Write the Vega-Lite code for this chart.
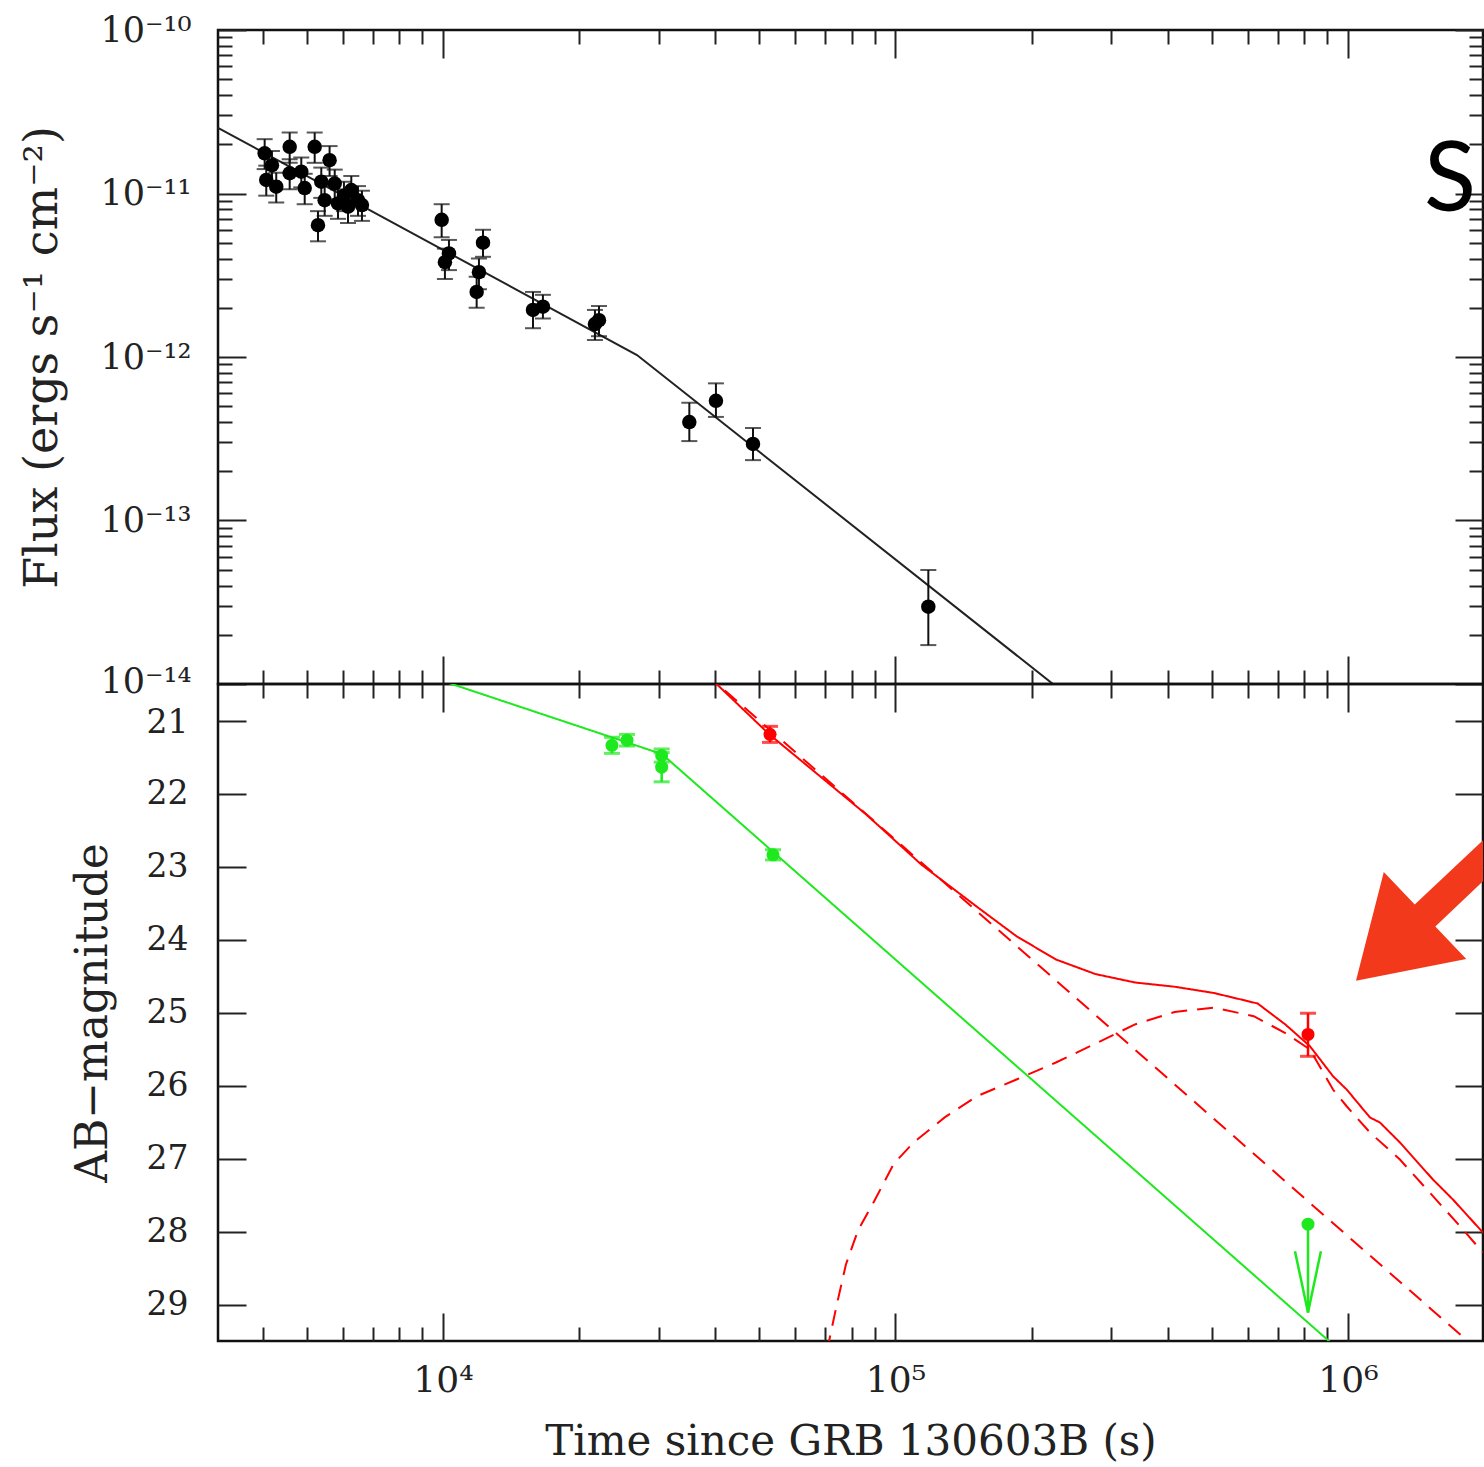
{
  "$schema": "https://vega.github.io/schema/vega-lite/v6.json",
  "background": "white",
  "padding": {"left": 18, "top": 11, "right": 0, "bottom": 2},
  "spacing": 0,
  "bounds": "flush",
  "config": {
    "view": {"stroke": "#111", "strokeWidth": 2.5},
    "axis": {
      "domain": false, "grid": false, "tickColor": "#222", "tickWidth": 2,
      "labelColor": "#222", "titleColor": "#222", "labelFont": "DejaVu Serif", "titleFont": "DejaVu Serif",
      "titleFontWeight": "normal", "labelOverlap": false, "labelFlush": false, "labelBound": false
    }
  },
  "datasets": {
    "xray": [
      {"t":4036,"f":1.76e-11,"flo":1.41e-11,"fhi":2.15e-11},
      {"t":4584,"f":1.93e-11,"flo":1.54e-11,"fhi":2.36e-11},
      {"t":5206,"f":1.93e-11,"flo":1.54e-11,"fhi":2.36e-11},
      {"t":5616,"f":1.60e-11,"flo":1.28e-11,"fhi":1.95e-11},
      {"t":4069,"f":1.21e-11,"flo":0.97e-11,"fhi":1.48e-11},
      {"t":4281,"f":1.10e-11,"flo":0.88e-11,"fhi":1.34e-11},
      {"t":4584,"f":1.33e-11,"flo":1.06e-11,"fhi":1.62e-11},
      {"t":4863,"f":1.36e-11,"flo":1.09e-11,"fhi":1.66e-11},
      {"t":4948,"f":1.08e-11,"flo":0.86e-11,"fhi":1.32e-11},
      {"t":5384,"f":1.18e-11,"flo":0.94e-11,"fhi":1.44e-11},
      {"t":5477,"f":9.1e-12,"flo":7.3e-12,"fhi":1.11e-11},
      {"t":5765,"f":1.15e-11,"flo":0.92e-11,"fhi":1.40e-11},
      {"t":5294,"f":6.4e-12,"flo":5.1e-12,"fhi":7.8e-12},
      {"t":5861,"f":8.7e-12,"flo":7.0e-12,"fhi":1.06e-11},
      {"t":6272,"f":1.05e-11,"flo":0.84e-11,"fhi":1.28e-11},
      {"t":6490,"f":9.1e-12,"flo":7.3e-12,"fhi":1.11e-11},
      {"t":6168,"f":8.3e-12,"flo":6.6e-12,"fhi":1.01e-11},
      {"t":4189,"f":1.49e-11,"flo":1.19e-11,"fhi":1.82e-11},
      {"t":6042,"f":9.7e-12,"flo":7.8e-12,"fhi":1.18e-11},
      {"t":6622,"f":8.5e-12,"flo":6.8e-12,"fhi":1.04e-11},
      {"t":9934,"f":6.9e-12,"flo":5.4e-12,"fhi":8.6e-12},
      {"t":10100,"f":3.8e-12,"flo":3.0e-12,"fhi":4.6e-12},
      {"t":10310,"f":4.3e-12,"flo":3.4e-12,"fhi":5.2e-12},
      {"t":12260,"f":5.0e-12,"flo":4.1e-12,"fhi":6.0e-12},
      {"t":12010,"f":3.3e-12,"flo":2.6e-12,"fhi":4.0e-12},
      {"t":11870,"f":2.5e-12,"flo":2.0e-12,"fhi":3.1e-12},
      {"t":15810,"f":1.94e-12,"flo":1.50e-12,"fhi":2.5e-12},
      {"t":16630,"f":2.03e-12,"flo":1.72e-12,"fhi":2.4e-12},
      {"t":21670,"f":1.59e-12,"flo":1.27e-12,"fhi":1.94e-12},
      {"t":22120,"f":1.68e-12,"flo":1.34e-12,"fhi":2.05e-12},
      {"t":35030,"f":4.0e-13,"flo":3.06e-13,"fhi":5.25e-13},
      {"t":40110,"f":5.4e-13,"flo":4.3e-13,"fhi":6.9e-13},
      {"t":48430,"f":2.94e-13,"flo":2.34e-13,"fhi":3.68e-13},
      {"t":118200,"f":2.97e-14,"flo":1.73e-14,"fhi":4.98e-14}
    ],
    "xfit": [
      {"t":3183,"f":2.52e-11},
      {"t":26840,"f":1.028e-12},
      {"t":240000,"f":8.5e-15}
    ],
    "stext": [{"t":1472000,"f":7.82e-12,"label":"S"}],
    "opt": [
      {"t":23630,"m":21.34,"mlo":21.23,"mhi":21.45,"c":"g"},
      {"t":25510,"m":21.27,"mlo":21.19,"mhi":21.35,"c":"g"},
      {"t":30430,"m":21.48,"mlo":21.39,"mhi":21.57,"c":"g"},
      {"t":30430,"m":21.64,"mlo":21.44,"mhi":21.84,"c":"g"},
      {"t":53620,"m":22.84,"mlo":22.77,"mhi":22.91,"c":"g"},
      {"t":52810,"m":21.19,"mlo":21.08,"mhi":21.30,"c":"r"},
      {"t":816000,"m":25.30,"mlo":25.01,"mhi":25.60,"c":"r"}
    ],
    "ulim": [{"t":816000,"m":27.90,"m2":29.11,"c":"g"}],
    "uhead": [
      {"t":763700,"m":28.27},
      {"t":816000,"m":29.11},
      {"t":871500,"m":28.27}
    ],
    "arrow": [{"t":1443000,"m":23.589}],
    "models": [
      {"t":10000,"m":20.46,"c":"g"},
      {"t":30480,"m":21.46,"c":"g"},
      {"t":1000000,"m":29.73,"c":"g"},
      {"t":38000,"m":20.353,"c":"pl"},
      {"t":2000000,"m":29.70,"c":"pl"},
      {"t":38000,"m":20.353,"c":"tot"},
      {"t":52590,"m":21.188,"c":"tot"},
      {"t":86050,"m":22.284,"c":"tot"},
      {"t":114160,"m":22.975,"c":"tot"},
      {"t":151390,"m":23.552,"c":"tot"},
      {"t":185110,"m":23.955,"c":"tot"},
      {"t":226260,"m":24.274,"c":"tot"},
      {"t":276810,"m":24.474,"c":"tot"},
      {"t":338270,"m":24.589,"c":"tot"},
      {"t":414000,"m":24.647,"c":"tot"},
      {"t":505710,"m":24.733,"c":"tot"},
      {"t":631540,"m":24.877,"c":"tot"},
      {"t":727110,"m":25.164,"c":"tot"},
      {"t":824140,"m":25.462,"c":"tot"},
      {"t":926700,"m":25.873,"c":"tot"},
      {"t":993340,"m":26.055,"c":"tot"},
      {"t":1118400,"m":26.438,"c":"tot"},
      {"t":1176800,"m":26.507,"c":"tot"},
      {"t":1302600,"m":26.781,"c":"tot"},
      {"t":1541000,"m":27.288,"c":"tot"},
      {"t":1706100,"m":27.562,"c":"tot"},
      {"t":1987300,"m":28.014,"c":"tot"},
      {"t":70550,"m":29.64,"c":"kn"},
      {"t":74040,"m":29.027,"c":"kn"},
      {"t":77710,"m":28.452,"c":"kn"},
      {"t":82620,"m":27.986,"c":"kn"},
      {"t":89660,"m":27.589,"c":"kn"},
      {"t":99240,"m":27.068,"c":"kn"},
      {"t":109650,"m":26.781,"c":"kn"},
      {"t":128660,"m":26.434,"c":"kn"},
      {"t":151390,"m":26.147,"c":"kn"},
      {"t":185110,"m":25.918,"c":"kn"},
      {"t":226260,"m":25.685,"c":"kn"},
      {"t":276810,"m":25.425,"c":"kn"},
      {"t":338270,"m":25.164,"c":"kn"},
      {"t":414000,"m":24.993,"c":"kn"},
      {"t":505710,"m":24.932,"c":"kn"},
      {"t":619200,"m":25.051,"c":"kn"},
      {"t":727110,"m":25.281,"c":"kn"},
      {"t":824140,"m":25.507,"c":"kn"},
      {"t":926700,"m":26.055,"c":"kn"},
      {"t":993340,"m":26.284,"c":"kn"},
      {"t":1118400,"m":26.644,"c":"kn"},
      {"t":1302600,"m":27.014,"c":"kn"},
      {"t":1541000,"m":27.516,"c":"kn"},
      {"t":1768000,"m":27.927,"c":"kn"},
      {"t":1987300,"m":28.288,"c":"kn"}
    ]
  },
  "vconcat": [
    {
      "width": 1265,
      "height": 654,
      "resolve": {"axis": {"x": "independent", "y": "independent"}},
      "layer": [
        {
          "data": {"name": "xfit"},
          "mark": {"type": "line", "color": "#222", "strokeWidth": 2, "clip": true},
          "encoding": {
            "x": {"field": "t", "type": "quantitative", "scale": {"type": "log", "domain": [3183, 1988000], "nice": false},
              "axis": {"orient": "top", "labels": false, "title": null,
                "values": [4000,5000,6000,7000,8000,9000,10000,20000,30000,40000,50000,60000,70000,80000,90000,100000,200000,300000,400000,500000,600000,700000,800000,900000,1000000],
                "tickSize": {"condition": {"test": "datum.value == 10000 || datum.value == 100000 || datum.value == 1000000", "value": -28}, "value": -14}}},
            "y": {"field": "f", "type": "quantitative", "scale": {"type": "log", "domain": [1e-14, 1e-10], "nice": false},
              "axis": {"orient": "left",
                "values": [1e-14,2e-14,3e-14,4e-14,5e-14,6e-14,7e-14,8e-14,9e-14,1e-13,2e-13,3e-13,4e-13,5e-13,6e-13,7e-13,8e-13,9e-13,1e-12,2e-12,3e-12,4e-12,5e-12,6e-12,7e-12,8e-12,9e-12,1e-11,2e-11,3e-11,4e-11,5e-11,6e-11,7e-11,8e-11,9e-11,1e-10],
                "labelExpr": "datum.value == 1e-10 ? '10⁻¹⁰' : datum.value == 1e-11 ? '10⁻¹¹' : datum.value == 1e-12 ? '10⁻¹²' : datum.value == 1e-13 ? '10⁻¹³' : datum.value == 1e-14 ? '10⁻¹⁴' : ''",
                "labelFontSize": 35, "labelPadding": 55,
                "labelOffset": {"condition": {"test": "datum.value == 1e-14", "value": -3}, "value": 0},
                "tickSize": {"condition": {"test": "datum.value == 1e-10 || datum.value == 1e-11 || datum.value == 1e-12 || datum.value == 1e-13 || datum.value == 1e-14", "value": -28}, "value": -14},
                "title": "Flux (ergs s⁻¹ cm⁻²)", "titleFontSize": 46, "titlePadding": 33}}
          }
        },
        {
          "data": {"name": "xray"},
          "mark": {"type": "errorbar", "color": "#111", "thickness": 2, "ticks": {"size": 16, "thickness": 2}},
          "encoding": {
            "x": {"field": "t", "type": "quantitative", "scale": {"type": "log", "domain": [3183, 1988000], "nice": false}, "axis": null},
            "y": {"field": "flo", "type": "quantitative", "scale": {"type": "log", "domain": [1e-14, 1e-10], "nice": false}, "axis": null},
            "y2": {"field": "fhi"}
          }
        },
        {
          "data": {"name": "xray"},
          "mark": {"type": "point", "filled": true, "shape": "circle", "color": "#000", "size": 210, "opacity": 1},
          "encoding": {
            "x": {"field": "t", "type": "quantitative", "scale": {"type": "log", "domain": [3183, 1988000], "nice": false},
              "axis": {"orient": "bottom", "labels": false, "title": null,
                "values": [4000,5000,6000,7000,8000,9000,10000,20000,30000,40000,50000,60000,70000,80000,90000,100000,200000,300000,400000,500000,600000,700000,800000,900000,1000000],
                "tickSize": {"condition": {"test": "datum.value == 10000 || datum.value == 100000 || datum.value == 1000000", "value": -28}, "value": -14}}},
            "y": {"field": "f", "type": "quantitative", "scale": {"type": "log", "domain": [1e-14, 1e-10], "nice": false},
              "axis": {"orient": "right", "labels": false, "title": null,
                "values": [1e-14,2e-14,3e-14,4e-14,5e-14,6e-14,7e-14,8e-14,9e-14,1e-13,2e-13,3e-13,4e-13,5e-13,6e-13,7e-13,8e-13,9e-13,1e-12,2e-12,3e-12,4e-12,5e-12,6e-12,7e-12,8e-12,9e-12,1e-11,2e-11,3e-11,4e-11,5e-11,6e-11,7e-11,8e-11,9e-11,1e-10],
                "tickSize": {"condition": {"test": "datum.value == 1e-10 || datum.value == 1e-11 || datum.value == 1e-12 || datum.value == 1e-13 || datum.value == 1e-14", "value": -28}, "value": -14}}}
          }
        },
        {
          "data": {"name": "stext"},
          "mark": {"type": "text", "font": "Lato", "fontSize": 96, "align": "left", "baseline": "alphabetic", "color": "#000"},
          "encoding": {
            "x": {"field": "t", "type": "quantitative", "scale": {"type": "log", "domain": [3183, 1988000], "nice": false}, "axis": null},
            "y": {"field": "f", "type": "quantitative", "scale": {"type": "log", "domain": [1e-14, 1e-10], "nice": false}, "axis": null},
            "text": {"field": "label"}
          }
        }
      ]
    },
    {
      "width": 1265,
      "height": 657,
      "resolve": {"axis": {"x": "independent", "y": "independent"}},
      "layer": [
        {
          "data": {"name": "models"},
          "mark": {"type": "line", "strokeWidth": 2, "clip": true},
          "encoding": {
            "x": {"field": "t", "type": "quantitative", "scale": {"type": "log", "domain": [3183, 1988000], "nice": false},
              "axis": {"orient": "top", "labels": false, "title": null,
                "values": [4000,5000,6000,7000,8000,9000,10000,20000,30000,40000,50000,60000,70000,80000,90000,100000,200000,300000,400000,500000,600000,700000,800000,900000,1000000],
                "tickSize": {"condition": {"test": "datum.value == 10000 || datum.value == 100000 || datum.value == 1000000", "value": -28}, "value": -14}}},
            "y": {"field": "m", "type": "quantitative", "scale": {"domain": [20.5, 29.5], "reverse": true, "nice": false, "zero": false},
              "axis": {"orient": "left", "values": [21,22,23,24,25,26,27,28,29], "labelFontSize": 33, "labelPadding": 58, "tickSize": -28,
                "labelOffset": {"condition": {"test": "datum.value == 21", "value": 2}, "value": 0},
                "title": "AB−magnitude", "titleFontSize": 44, "titlePadding": 31}},
            "color": {"field": "c", "type": "nominal", "scale": {"domain": ["g","r","pl","tot","kn"], "range": ["#1ee81e","#ff0000","#ff0000","#ff0000","#ff0000"]}, "legend": null},
            "strokeDash": {"field": "c", "type": "nominal", "scale": {"domain": ["g","pl","tot","kn"], "range": [[1,0],[16,10],[1,0],[16,10]]}, "legend": null}
          }
        },
        {
          "data": {"name": "opt"},
          "mark": {"type": "errorbar", "thickness": 2.5, "ticks": {"size": 16, "thickness": 3}},
          "encoding": {
            "x": {"field": "t", "type": "quantitative", "scale": {"type": "log", "domain": [3183, 1988000], "nice": false}, "axis": null},
            "y": {"field": "mlo", "type": "quantitative", "scale": {"domain": [20.5, 29.5], "reverse": true, "nice": false, "zero": false}, "axis": null},
            "y2": {"field": "mhi"},
            "color": {"field": "c", "type": "nominal", "scale": {"domain": ["g","r","pl","tot","kn"], "range": ["#1ee81e","#ff0000","#ff0000","#ff0000","#ff0000"]}, "legend": null}
          }
        },
        {
          "data": {"name": "opt"},
          "mark": {"type": "point", "filled": true, "shape": "circle", "size": 170, "opacity": 1},
          "encoding": {
            "x": {"field": "t", "type": "quantitative", "scale": {"type": "log", "domain": [3183, 1988000], "nice": false},
              "axis": {"orient": "bottom",
                "values": [4000,5000,6000,7000,8000,9000,10000,20000,30000,40000,50000,60000,70000,80000,90000,100000,200000,300000,400000,500000,600000,700000,800000,900000,1000000],
                "labelExpr": "datum.value == 10000 ? '10⁴' : datum.value == 100000 ? '10⁵' : datum.value == 1000000 ? '10⁶' : ''",
                "labelFontSize": 36, "labelPadding": 50, "labelBaseline": "top",
                "tickSize": {"condition": {"test": "datum.value == 10000 || datum.value == 100000 || datum.value == 1000000", "value": -28}, "value": -14},
                "title": "Time since GRB 130603B (s)", "titleFontSize": 42, "titlePadding": 9}},
            "y": {"field": "m", "type": "quantitative", "scale": {"domain": [20.5, 29.5], "reverse": true, "nice": false, "zero": false},
              "axis": {"orient": "right", "values": [21,22,23,24,25,26,27,28,29], "labels": false, "title": null, "tickSize": -28}},
            "color": {"field": "c", "type": "nominal", "scale": {"domain": ["g","r","pl","tot","kn"], "range": ["#1ee81e","#ff0000","#ff0000","#ff0000","#ff0000"]}, "legend": null}
          }
        },
        {
          "data": {"name": "ulim"},
          "mark": {"type": "rule", "color": "#1ee81e", "strokeWidth": 2.5},
          "encoding": {
            "x": {"field": "t", "type": "quantitative", "scale": {"type": "log", "domain": [3183, 1988000], "nice": false}, "axis": null},
            "y": {"field": "m", "type": "quantitative", "scale": {"domain": [20.5, 29.5], "reverse": true, "nice": false, "zero": false}, "axis": null},
            "y2": {"field": "m2"}
          }
        },
        {
          "data": {"name": "ulim"},
          "mark": {"type": "point", "filled": true, "shape": "circle", "size": 170, "opacity": 1, "color": "#1ee81e"},
          "encoding": {
            "x": {"field": "t", "type": "quantitative", "scale": {"type": "log", "domain": [3183, 1988000], "nice": false}, "axis": null},
            "y": {"field": "m", "type": "quantitative", "scale": {"domain": [20.5, 29.5], "reverse": true, "nice": false, "zero": false}, "axis": null}
          }
        },
        {
          "data": {"name": "uhead"},
          "mark": {"type": "line", "color": "#1ee81e", "strokeWidth": 2.5},
          "encoding": {
            "x": {"field": "t", "type": "quantitative", "scale": {"type": "log", "domain": [3183, 1988000], "nice": false}, "axis": null},
            "y": {"field": "m", "type": "quantitative", "scale": {"domain": [20.5, 29.5], "reverse": true, "nice": false, "zero": false}, "axis": null}
          }
        },
        {
          "data": {"name": "arrow"},
          "mark": {"type": "point", "filled": true, "clip": true, "opacity": 1, "color": "#f3391c", "strokeWidth": 0, "size": 25600,
            "shape": "M-0.801,0.89L0.578,0.62L0.191,0.211L1.281,-0.818L1.024,-1.09L-0.066,-0.061L-0.453,-0.47Z"},
          "encoding": {
            "x": {"field": "t", "type": "quantitative", "scale": {"type": "log", "domain": [3183, 1988000], "nice": false}, "axis": null},
            "y": {"field": "m", "type": "quantitative", "scale": {"domain": [20.5, 29.5], "reverse": true, "nice": false, "zero": false}, "axis": null}
          }
        }
      ]
    }
  ]
}
